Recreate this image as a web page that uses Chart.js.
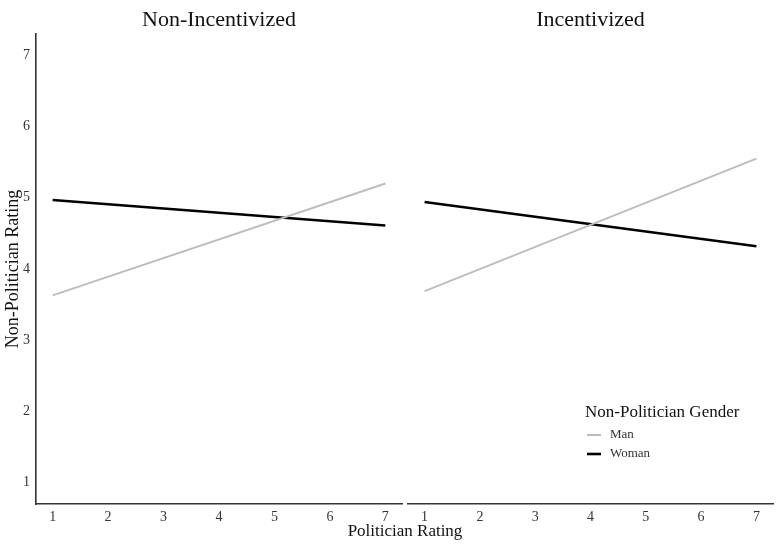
<!DOCTYPE html>
<html>
<head>
<meta charset="utf-8">
<script src="https://cdn.jsdelivr.net/npm/chart.js@4.4.1/dist/chart.umd.min.js"></script>
<style>
  html, body { margin: 0; padding: 0; background: #fff; }
  #wrap { position: relative; width: 780px; height: 546px; overflow: hidden; }
  .panel { position: absolute; top: 0; height: 546px; }
  #p1 { left: 0; width: 405px; }
  #p2 { left: 405px; width: 375px; }
  #xtitle { position: absolute; left: 0; width: 810px; top: 521px; line-height: 20px;
            text-align: center; font: 17px "Liberation Serif", "Times New Roman", serif; color: #111; }
</style>
</head>
<body>
<div id="wrap">
  <div class="panel" id="p1"><canvas id="c1"></canvas></div>
  <div class="panel" id="p2"><canvas id="c2"></canvas></div>
  <div id="xtitle">Politician Rating</div>
</div>
<script>
const panels = ['Non-Incentivized', 'Incentivized'];
const seriesNames = ['Man', 'Woman'];
const xTicks = [1, 2, 3, 4, 5, 6, 7];
const yTicks = [1, 2, 3, 4, 5, 6, 7];
const ratingX = [1, 7];
const manNonInc = [3.63, 5.20];
const womanNonInc = [4.97, 4.61];
const manInc = [3.69, 5.55];
const womanInc = [4.94, 4.32];

const serif = '"Liberation Serif", "Times New Roman", serif';

// facet strip title, centred over the plot area
const panelTitle = {
    id: 'panelTitle',
    afterDraw(chart, args, opts) {
        const { ctx, chartArea } = chart;
        ctx.save();
        ctx.font = '22px ' + serif;
        ctx.fillStyle = '#111';
        ctx.textAlign = 'center';
        ctx.textBaseline = 'middle';
        ctx.fillText(opts.text, (chartArea.left + chartArea.right) / 2, 20);
        ctx.restore();
    }
};

// legend drawn inside the right panel, like the ggplot one
const lineLegend = {
    id: 'lineLegend',
    afterDraw(chart, args, opts) {
        if (!opts.show) return;
        const ctx = chart.ctx;
        ctx.save();
        ctx.textBaseline = 'middle';
        ctx.textAlign = 'left';
        ctx.fillStyle = '#111';
        ctx.font = '17px ' + serif;
        ctx.fillText(opts.title, opts.x, opts.y);
        chart.data.datasets.forEach((ds, i) => {
            const yy = opts.y + 22 + i * 19;
            ctx.strokeStyle = ds.borderColor;
            ctx.lineWidth = ds.borderWidth;
            ctx.beginPath();
            ctx.moveTo(opts.x + 2, yy);
            ctx.lineTo(opts.x + 16, yy);
            ctx.stroke();
            ctx.fillStyle = '#333';
            ctx.font = '13px ' + serif;
            ctx.fillText(ds.label, opts.x + 25, yy);
        });
        ctx.restore();
    }
};

const pts = vals => ratingX.map((x, i) => ({ x, y: vals[i] }));

function makePanel(id, title, man, woman, showY, pad, legend) {
    return new Chart(document.getElementById(id), {
        type: 'line',
        data: {
            datasets: [
                { label: seriesNames[0], data: pts(man), borderColor: '#bdbdbd', borderWidth: 2, pointRadius: 0 },
                { label: seriesNames[1], data: pts(woman), borderColor: '#000', borderWidth: 2.6, pointRadius: 0 },
            ],
        },
        options: {
            responsive: true,
            maintainAspectRatio: false,
            animation: false,
            events: [],
            layout: { padding: pad },
            plugins: {
                legend: { display: false },
                tooltip: { enabled: false },
                panelTitle: { text: title },
                lineLegend: { show: legend, title: 'Non-Politician Gender', x: 180, y: 413 },
            },
            scales: {
                x: {
                    type: 'linear', min: 0.7, max: 7.3,
                    afterBuildTicks: s => { s.ticks = xTicks.map(v => ({ value: v })); },
                    afterFit: s => { s.height = 42; },
                    grid: { display: false, drawTicks: false },
                    border: { display: true, color: '#333', width: 1.6 },
                    ticks: { padding: 5, color: '#333', font: { family: serif, size: 14 } },
                },
                y: {
                    type: 'linear', min: 0.7, max: 7.3, display: showY,
                    afterBuildTicks: s => { s.ticks = yTicks.map(v => ({ value: v })); },
                    afterFit: s => { s.width = showY ? 36 : 0; },
                    grid: { display: false, drawTicks: false },
                    border: { display: true, color: '#333', width: 1.6 },
                    ticks: { padding: 6, color: '#333', font: { family: serif, size: 14 } },
                    title: {
                        display: true, text: 'Non-Politician Rating', color: '#111',
                        padding: { top: 2, bottom: 0 },
                        font: { family: serif, size: 18, lineHeight: 1.2 },
                    },
                },
            },
        },
        plugins: [panelTitle, lineLegend],
    });
}

makePanel('c1', panels[0], manNonInc, womanNonInc, true, { left: 0, right: 3, top: 34, bottom: 0 }, false);
makePanel('c2', panels[1], manInc, womanInc, false, { left: 3, right: 7, top: 34, bottom: 0 }, true);
</script>
</body>
</html>
